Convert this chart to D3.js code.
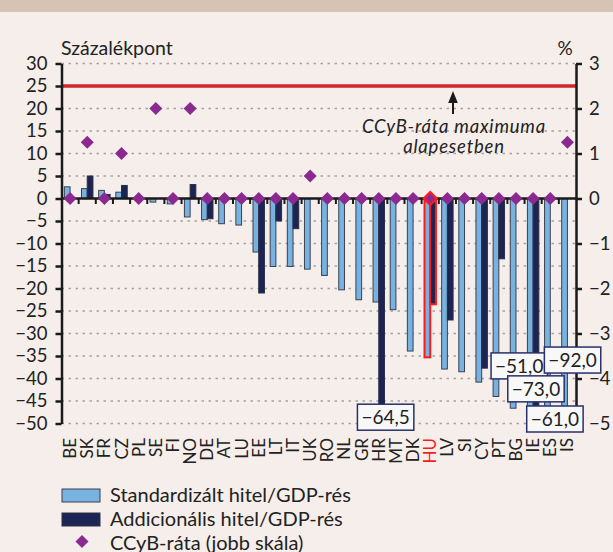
<!DOCTYPE html>
<html>
<head>
<meta charset="utf-8">
<script src="https://cdn.jsdelivr.net/npm/d3@7"></script>
<style>
html,body{margin:0;padding:0;background:#f6eeea;}
svg{display:block;font-family:Lato,"Open Sans",sans-serif;}
</style>
</head>
<body>
<svg id="chart" width="613" height="552"></svg>
<script>
// ---------------- DATA ----------------
const categories = ["BE","SK","FR","CZ","PL","SE","FI","NO","DE","AT","LU","EE","LT","IT","UK","RO","NL","GR","HR","MT","DK","HU","LV","SI","CY","PT","BG","IE","ES","IS"];
const standardGap = [2.6,2.2,1.8,1.4,0,-0.8,-1.2,-4.1,-4.7,-5.6,-5.9,-11.9,-15.1,-15.1,-15.7,-17.1,-20.3,-22.5,-23.0,-24.7,-33.9,-35.3,-37.9,-38.5,-40.8,-44.0,-46.6,-51.0,-61.0,-92.0];
const additionalGap = [null,5.0,0.9,2.9,null,null,null,3.1,-4.5,null,null,-21.0,-5.0,-6.7,null,null,null,null,-64.5,null,null,-23.5,-27.0,null,-37.7,-13.4,null,-73.0,null,null];
const ccybRate = [0,1.25,0,1.0,0,2.0,0,2.0,0,0,0,0,0,0,0.5,0,0,0,0,0,0,0,0,0,0,0,0,0,0,1.25];
const ccybMax = 2.5;
const leftTicks = [30,25,20,15,10,5,0,-5,-10,-15,-20,-25,-30,-35,-40,-45,-50];
const rightTicks = [3,2,1,0,-1,-2,-3,-4,-5];
const highlight = "HU";
const seriesNames = ["Standardizált hitel/GDP-rés","Addicionális hitel/GDP-rés","CCyB-ráta (jobb skála)"];
const leftTitle = "Százalékpont";
const rightTitle = "%";
const noteLines = ["CCyB-ráta maximuma","alapesetben"];
// off-scale value labels: which bar, and placement offsets (px / value units)
const offLabels = [
  {cat:"HR", series:"add", dx:4,  yv:-48.6},
  {cat:"IE", series:"std", dx:-11, yv:-37.2},
  {cat:"IE", series:"add", dx:0,  yv:-42.3},
  {cat:"ES", series:"std", dx:7.5, yv:-49.0},
  {cat:"IS", series:"std", dx:8,  yv:-35.9}
];

// ---------------- STYLE ----------------
const C = {bg:"#f6eeea", light:"#78b2e0", dark:"#1c2453", diamond:"#8a2a90", red:"#d0262e",
           axis:"#1a1a1a", grid:"#a3a3a3", text:"#222222", box:"#28306a"};

const svg = d3.select("#chart");
svg.append("rect").attr("width",613).attr("height",552).attr("fill",C.bg);
svg.append("rect").attr("width",613).attr("height",12).attr("fill","#d5c4b4");

const x0 = 61.5, x1 = 576, yTop = 63.5, yBot = 423.5;
const y = d3.scaleLinear().domain([-50,30]).range([yBot,yTop]).clamp(true);
const yR = d3.scaleLinear().domain([-5,3]).range([yBot,yTop]);
const x = d3.scaleBand().domain(categories).range([x0,x1]).paddingInner(0).paddingOuter(0);
const bw = x.bandwidth()/3;
const cx = c => x(c) + x.bandwidth()/2;

const loc = d3.formatLocale({decimal:",",thousands:" ",grouping:[3],currency:["",""],minus:"\u2212"});
const fmtTick = loc.format("d");
const fmtVal = loc.format(".1f");

// grid
svg.append("g").selectAll("line").data(leftTicks.filter(v=>v!==0)).join("line")
  .attr("x1",x0).attr("x2",x1).attr("y1",d=>y(d)).attr("y2",d=>y(d))
  .attr("stroke",C.grid).attr("stroke-width",1.6).attr("stroke-dasharray","2.5,4.5");

// red max line
svg.append("line").attr("x1",x0).attr("x2",x1).attr("y1",yR(ccybMax)).attr("y2",yR(ccybMax))
  .attr("stroke",C.red).attr("stroke-width",3.5);

// bars
const rows = categories.map((c,i)=>({c, std:standardGap[i], add:additionalGap[i], rate:ccybRate[i]}));
const gBars = svg.append("g");
gBars.selectAll("rect.std").data(rows.filter(d=>d.std!==null && d.std!==0)).join("rect")
  .attr("class","std")
  .attr("x",d=>cx(d.c)-bw).attr("width",bw)
  .attr("y",d=>Math.min(y(d.std),y(0))).attr("height",d=>Math.abs(y(d.std)-y(0)))
  .attr("fill",C.light).attr("stroke",d=>d.c===highlight?"#ff1a1a":"#3b4150").attr("stroke-width",d=>d.c===highlight?2:1);
gBars.selectAll("rect.add").data(rows.filter(d=>d.add!==null && d.add!==0)).join("rect")
  .attr("class","add")
  .attr("x",d=>cx(d.c)).attr("width",bw)
  .attr("y",d=>Math.min(y(d.add),y(0))).attr("height",d=>Math.abs(y(d.add)-y(0)))
  .attr("fill",C.dark).attr("stroke",d=>d.c===highlight?"#ff1a1a":"#2b2f45").attr("stroke-width",d=>d.c===highlight?2:1);

// zero line + category ticks
svg.append("line").attr("x1",x0).attr("x2",x1).attr("y1",y(0)).attr("y2",y(0))
  .attr("stroke",C.axis).attr("stroke-width",2.5);
svg.append("g").selectAll("line").data(categories.slice(1)).join("line")
  .attr("x1",d=>x(d)).attr("x2",d=>x(d)).attr("y1",y(0)).attr("y2",y(0)+5.5)
  .attr("stroke",C.axis).attr("stroke-width",2);

// axes
const axL = svg.append("g").attr("transform",`translate(${x0},0)`)
  .call(d3.axisLeft(y).tickValues(leftTicks).tickFormat(fmtTick).tickSize(6).tickSizeOuter(0).tickPadding(8));
const axR = svg.append("g").attr("transform",`translate(${x1},0)`)
  .call(d3.axisRight(yR).tickValues(rightTicks).tickFormat(fmtTick).tickSize(6).tickSizeOuter(0).tickPadding(7));
[axL,axR].forEach(a=>{
  a.select(".domain").attr("stroke",C.axis).attr("stroke-width",2.5);
  a.selectAll(".tick line").attr("stroke",C.axis).attr("stroke-width",2.5);
  a.selectAll(".tick text").attr("fill",C.text).style("font-size","18.5px").style("font-family","Lato");
});

// diamonds
const dsize = 13;
const diamond = s => `M0,${-s/2}L${s/2},0L0,${s/2}L${-s/2},0Z`;
svg.append("g").selectAll("path").data(rows).join("path")
  .attr("d",diamond(dsize))
  .attr("transform",d=>`translate(${cx(d.c)},${yR(d.rate)})`)
  .attr("fill",C.diamond)
  .attr("stroke",d=>d.c===highlight?"#ff1a1a":"none").attr("stroke-width",2.2);

// category labels
svg.append("g").selectAll("text").data(categories).join("text")
  .attr("transform",d=>`translate(${cx(d)+6},438) rotate(-90)`)
  .attr("text-anchor","end").style("font-size","17px")
  .attr("fill",d=>d===highlight?"#ff1a1a":C.text).text(d=>d);

// off-scale value labels
offLabels.forEach(l=>{
  const i = categories.indexOf(l.cat);
  const v = l.series==="std"?standardGap[i]:additionalGap[i];
  const bx = l.series==="std"? cx(l.cat)-bw/2 : cx(l.cat)+bw/2;
  const g = svg.append("g").attr("transform",`translate(${bx+l.dx},${y(l.yv)})`);
  const t = g.append("text").attr("text-anchor","middle").attr("dy","0.35em")
    .style("font-size","19px").attr("fill",C.text).text(fmtVal(v));
  const bb = t.node().getBBox();
  g.insert("rect","text").attr("x",-bb.width/2-4).attr("y",-13).attr("width",bb.width+8).attr("height",26)
    .attr("fill","#f8f8f8").attr("stroke",C.box).attr("stroke-width",1.5);
});

// titles
svg.append("text").attr("x",61).attr("y",55).style("font-size","19.5px").attr("fill",C.text).text(leftTitle);
svg.append("text").attr("x",565).attr("y",55).attr("text-anchor","middle").style("font-size","19px").attr("fill",C.text).text(rightTitle);

// note & arrow
const noteX = 454;
svg.append("defs").append("marker").attr("id","ah").attr("viewBox","0 0 10 10").attr("refX",5).attr("refY",5)
  .attr("markerWidth",6).attr("markerHeight",6).attr("orient","auto")
  .append("path").attr("d","M0,1L10,5L0,9Z").attr("fill",C.axis);
svg.append("line").attr("x1",noteX-1).attr("x2",noteX-1).attr("y1",114).attr("y2",97)
  .attr("stroke",C.axis).attr("stroke-width",2).attr("marker-end","url(#ah)");
noteLines.forEach((s,k)=>{
  svg.append("text").attr("x",noteX).attr("y",133+k*20).attr("text-anchor","middle")
    .style("font-size","18.5px").style("font-style","italic").style("letter-spacing","0.8px")
    .attr("fill",C.text).text(s);
});

// legend
const lg = svg.append("g");
[[C.light,"#3b4150"],[C.dark,"#2b2f45"]].forEach((c,k)=>{
  lg.append("rect").attr("x",62).attr("y",489+k*24).attr("width",38).attr("height",13)
    .attr("fill",c[0]).attr("stroke",c[1]).attr("stroke-width",1);
});
lg.append("path").attr("d",diamond(13)).attr("transform","translate(82,541.5)").attr("fill",C.diamond);
seriesNames.forEach((s,k)=>{
  lg.append("text").attr("x",110).attr("y",501.5+k*24).style("font-size","20px").attr("fill",C.text).text(s);
});
</script>
</body>
</html>
